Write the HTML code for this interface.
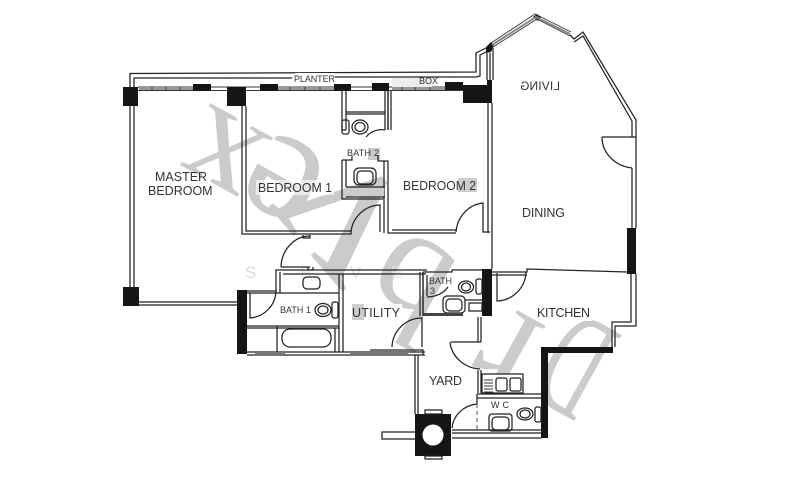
<!DOCTYPE html>
<html><head><meta charset="utf-8"><style>
html,body{margin:0;padding:0;background:#fff;width:800px;height:478px;overflow:hidden}
svg{display:block;filter:blur(.35px);overflow:hidden}
text{font-family:"Liberation Sans",sans-serif;fill:#333}
.w{font-family:"Liberation Serif",serif;fill:#cbcbcb;text-anchor:middle}
.l{fill:none;stroke:#222;stroke-width:1.25}
.t{fill:none;stroke:#333;stroke-width:.9}
.b{fill:#151515}
</style></head><body>
<svg width="800" height="478" viewBox="0 0 800 478" xmlns="http://www.w3.org/2000/svg">
<rect width="800" height="478" fill="#fff"/>
<!-- watermark -->
<g font-size="150">
<text class="w" transform="translate(574,368) rotate(209) scale(.52,1)" y="52">D</text>
<text class="w" transform="translate(510,345) rotate(209)" y="34">r</text>
<text class="w" transform="translate(408,288) rotate(209)" y="50">b</text>
<text class="w" transform="translate(345,215) rotate(229) scale(1.5,1.5)" y="34">v</text>
<text class="w" transform="translate(285,178) rotate(209) scale(1.1,1.1)" y="34">e</text>
<text class="w" transform="translate(225,150) rotate(209)" y="34">x</text>
</g>
<g font-size="17"><text x="245" y="278" style="fill:#ddd">S</text><text x="300" y="278" style="fill:#e2e2e2">E</text><text x="350" y="278" style="fill:#e2e2e2">V</text><text x="391" y="278" style="fill:#e2e2e2">E</text></g>
<!-- label backings -->
<rect x="401" y="180" width="76" height="12" fill="#fff"/><rect x="458" y="178" width="19" height="14" fill="#ccc"/>
<rect x="352" y="304" width="50" height="17" fill="#fff"/><rect x="352" y="304" width="12" height="16" fill="#ccc"/>
<rect x="368" y="148" width="12" height="12" fill="#ccc"/>
<rect x="536" y="305" width="56" height="16" fill="#fff"/>
<rect x="256" y="180" width="78" height="15" fill="#fff" opacity=".6"/>
<!-- planter -->
<path class="l" d="M130 287V73.500L476 72V53L488 47"/>
<path class="l" d="M134 287V78H292M322 77H476L480 76V55L490 50"/>
<!-- window strip -->
<path class="t" d="M138 87H463M138 90.500H463"/>
<rect x="295" y="73" width="40" height="10" fill="#fff"/>
<rect x="392" y="78" width="40" height="9" fill="#eee"/>
<path d="M139 89H193M278 89H335M392 89H445" stroke="#999" stroke-width="2" fill="none"/>
<path class="t" d="M152 87v4M166 87v4M180 87v4M290 87v4M305 87v4M320 87v4M402 87v4M415 87v4M430 87v4"/>
<!-- black columns -->
<rect class="b" x="123" y="87" width="15" height="19"/>
<rect class="b" x="193" y="84" width="18" height="7"/>
<rect class="b" x="227" y="87" width="19" height="19"/>
<rect class="b" x="260" y="84" width="18" height="7"/>
<rect class="b" x="334" y="84" width="17" height="7"/>
<rect class="b" x="372" y="83" width="17" height="8"/>
<rect class="b" x="445" y="82" width="18" height="8"/>
<rect class="b" x="463" y="85" width="29" height="18"/>
<rect class="b" x="487" y="80" width="5" height="6"/>
<rect class="b" x="123" y="287" width="16" height="19"/>
<rect class="b" x="237" y="290" width="10" height="64"/>
<rect class="b" x="482" y="269" width="10" height="47"/>
<rect class="b" x="627" y="228" width="9" height="46"/>
<path class="b" d="M541 347H613V353H548V438H541Z"/>
<rect class="b" x="415" y="414" width="36" height="42"/>
<circle cx="433" cy="435" r="10.500" fill="#fff"/>
<path class="b" d="M486 47l5-5 3 3-3 7-5 1zM533 17l4-3 4 3-3 4z"/>
<!-- bay window -->
<path class="t" d="M491 43L535 14L571 32M493 47L537 19L570 36"/>
<path d="M492 45L536 17L570 34" stroke="#888" stroke-width="2" fill="none"/>
<path class="l" d="M487 53V80M490 53V80M493 48V80"/>
<path class="l" d="M570 35L574 39L583 32L636 120V137M574 42L583 36L632 121V137"/>
<!-- right / living wall -->
<path class="l" d="M488 103V233M492 103V269"/>
<path class="l" d="M636 168V228M632 168V228"/>
<path class="l" d="M602 137H636V168"/><path class="l" d="M602 137A34 31 0 0 0 632 168"/>
<!-- master lower -->
<path class="l" d="M139 302H237M139 305H237"/>
<!-- bedroom 1 -->
<path class="l" d="M242 106V234H351V231M246 106V231H351"/>
<path class="l" d="M303 235V238H310V235M281 267A29 32 0 0 1 310 236M281 267H310M308 267v3h5v-3"/>
<path class="l" d="M351 232A30 30 0 0 1 380 205V232"/>
<!-- bath 2 -->
<path class="l" d="M342 91V130H346M346 91V130"/>
<path class="l" d="M388 91V130M385 91V130"/>
<path class="l" d="M346 112H385M346 114H385"/>
<rect class="l" x="342" y="120" width="7" height="14" rx="2"/>
<ellipse class="l" cx="360" cy="127" rx="8" ry="7"/><ellipse class="l" cx="360" cy="127" rx="5" ry="4.500"/>
<path class="l" d="M366 137A20 20 0 0 1 385 130"/>
<path class="l" d="M342 160H352V156M342 160V199H384V161H388V205M385 161H378V155"/>
<path class="l" d="M346 160V187M346 187H385M346 197H385"/>
<rect x="347" y="188" width="37" height="8" fill="#ccc"/>
<rect class="l" x="354" y="168" width="22" height="17" rx="5"/><rect class="l" x="357" y="171" width="16" height="13" rx="4"/>
<!-- bedroom 2 -->
<path class="l" d="M388 205V233H456M384 200V233M392 230H456"/>
<path class="l" d="M456 232A30 32 0 0 1 483 203V232H490"/>
<path class="l" d="M388 91V130M391 91V130"/>
<!-- bath 1 / utility -->
<path class="l" d="M247 291H276V270H427M280 272V293M283 274H426"/>
<path class="l" d="M247 293H339M250 293V318A28 28 0 0 0 276 290"/>
<path class="l" d="M339 274V352M343 274V352"/>
<rect class="l" x="303" y="277" width="17" height="12" rx="4"/>
<ellipse class="l" cx="323" cy="310" rx="8" ry="6.500"/><ellipse class="l" cx="323" cy="310" rx="5" ry="4"/>
<rect class="l" x="332" y="302" width="6" height="16" rx="2"/>
<path class="l" d="M247 326H339M247 328H339M277 326V352M335 328V352"/>
<rect class="l" x="282" y="329" width="49" height="18" rx="8"/>
<path class="l" d="M247 352H425M247 355H425"/>
<path d="M255 353H285M350 353H408" stroke="#777" stroke-width="2" fill="none"/>
<path class="l" d="M392 347A30 30 0 0 1 422 318V347M420 272V316M423 272V316"/>
<!-- bath 3 -->
<path class="l" d="M423 272H452V270H482M423 272V315M427 275V296"/>
<path class="l" d="M427 297A24 20 0 0 0 448 287"/>
<ellipse class="l" cx="466" cy="287" rx="7.500" ry="6"/><ellipse class="l" cx="466" cy="287" rx="4.500" ry="4"/>
<rect class="l" x="476" y="279" width="6" height="15" rx="2"/>
<rect class="l" x="443" y="296" width="22" height="17" rx="4"/><rect class="l" x="446" y="299" width="16" height="12" rx="4"/>
<rect x="423" y="313" width="40" height="3" fill="#444"/>
<path class="l" d="M465 300H482M469 303H482V311H469Z"/>
<!-- kitchen -->
<path class="l" d="M492 272H527V269L627 272M492 275H527"/>
<path class="l" d="M497 273V301A30 30 0 0 0 526 272"/>
<path class="l" d="M636 274V326H615V347M631 274V322H612V347"/>
<!-- yard -->
<path class="l" d="M370 350H423V355M415 355V414M418 355V414"/>
<path class="l" d="M478 317V342M481 317V342M451 342H481"/>
<path class="l" d="M450 342A32 30 0 0 0 480 369"/>
<path class="l" d="M478 370V393M481 370V393"/>
<path class="l" d="M482 374H523V393H482Z" style="fill:#fff"/>
<path class="t" d="M484 380H493M484 383H493M484 386H493M484 389H493M484 392H493"/>
<rect class="l" x="496" y="378" width="11" height="13" rx="2"/><rect class="l" x="510" y="378" width="11" height="13" rx="2"/>
<!-- wc -->
<path class="l" d="M477 394H541M477 398H541M477 394V404"/>
<path class="l" d="M452 428A28 26 0 0 1 477 404"/>
<path d="M477 404V430" stroke="#555" stroke-width="1" stroke-dasharray="4 3" fill="none"/>
<path class="l" d="M452 430H541M452 433H541M452 438H541"/>
<ellipse class="l" cx="525" cy="414" rx="8" ry="6"/><ellipse class="l" cx="525" cy="414" rx="5" ry="4"/>
<rect class="l" x="535" y="407" width="6" height="15" rx="2"/>
<rect class="l" x="489" y="414" width="23" height="17" rx="3"/><rect class="l" x="492" y="417" width="17" height="13" rx="4"/>
<!-- stub & shaft -->
<path class="l" d="M415 432H382V439H415"/>
<rect class="l" x="425" y="410" width="17" height="4"/><rect class="l" x="425" y="456" width="17" height="3"/>
<!-- labels -->
<g font-size="12.500">
<text x="155" y="181">MASTER</text>
<text x="148" y="195">BEDROOM</text>
<text x="258" y="192" textLength="74" lengthAdjust="spacingAndGlyphs">BEDROOM 1</text>
<text x="403" y="190" textLength="73" lengthAdjust="spacingAndGlyphs">BEDROOM 2</text>
<text x="522" y="217" textLength="43">DINING</text>
<text x="352" y="317" textLength="48">UTILITY</text>
<text x="537" y="317" textLength="53">KITCHEN</text>
<text x="429" y="385" textLength="33">YARD</text>
<text transform="translate(560,90) scale(-1,1)" textLength="40" font-size="12">LIVING</text>
</g>
<g font-size="9">
<text x="294" y="82" textLength="41">PLANTER</text>
<text x="419" y="84" textLength="19">BOX</text>
<text x="347" y="156" textLength="32">BATH 2</text>
<text x="280" y="313" textLength="31">BATH 1</text>
<text x="429" y="284" textLength="23">BATH</text>
<text x="430" y="294">3</text>
<text x="491" y="408" textLength="18">W C</text>
</g>
</svg>
</body></html>
